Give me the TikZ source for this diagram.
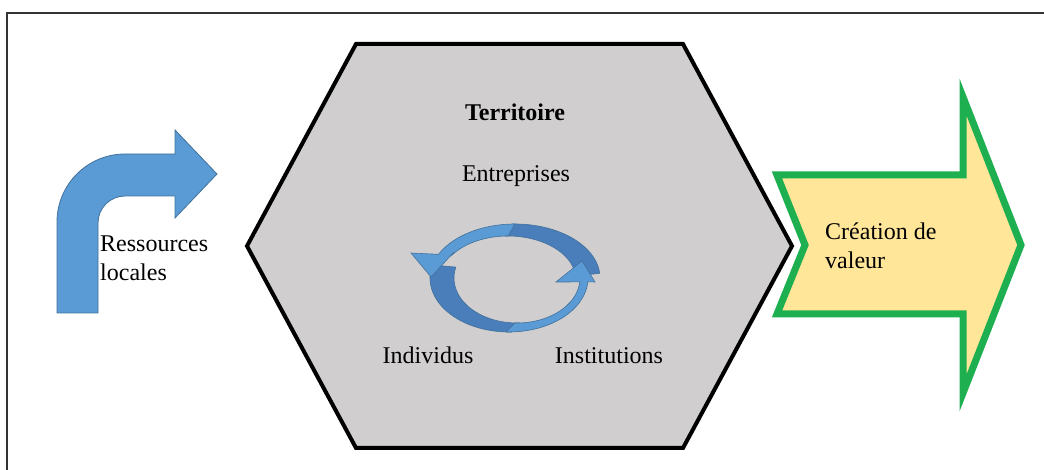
\documentclass[tikz,border=0pt]{standalone}
\usepackage{fontspec}
\setmainfont{Liberation Serif}
\usetikzlibrary{positioning}

\definecolor{hexgray}{HTML}{D0CECE}
\definecolor{blueL}{HTML}{5B9BD5}
\definecolor{blueD}{HTML}{4A7EBB}
\definecolor{blueE}{HTML}{41719C}
\definecolor{valfill}{HTML}{FFE699}
\definecolor{valgreen}{HTML}{1DAF50}

\begin{document}
\begin{tikzpicture}[
    x=1bp, y=-1bp,
    frame/.style={draw=black!80, line width=1.6bp},            % cadre (haut + gauche)
    hexa/.style={draw=black, line width=4bp, fill=hexgray, line join=miter},
    resarrow/.style={fill=blueL, draw=blueE, line width=0.8bp},
    cyclight/.style={fill=blueL, draw=blueE, line width=0.6bp},
    cycdark/.style={fill=blueD, draw=blueE, line width=0.6bp},
    valarrow/.style={fill=valfill, draw=valgreen, line width=7bp, line join=miter},
    txt/.style={font=\fontsize{24bp}{29bp}\selectfont, inner sep=0pt},
    titre/.style={txt, font=\fontsize{24bp}{29bp}\selectfont\bfseries}
]
    \useasboundingbox (0,0) rectangle (1044,470);

    % 1. cadre
    \draw[frame] (7,470) -- (7,13) -- (1044,13);

    % 2. fleche coudee (ressources locales)
    \draw[resarrow] (57,313) -- (57,222)
        .. controls (57,184.5) and (87.5,154) .. (125,154)
        -- (175,154) -- (175,130) -- (217,174) -- (175,218) -- (175,196)
        -- (125,196) .. controls (110.1,196) and (98,208.1) .. (98,223)
        -- (98,313) -- cycle;

    % 3. hexagone (territoire)
    \draw[hexa] (356,44) -- (683,44) -- (792,246) -- (683,448) -- (356,448) -- (247,246) -- cycle;

    % 4. fleche de sortie (creation de valeur)
    \draw[valarrow] (777,175) -- (963,175) -- (963,97) -- (1021,245) -- (963,393)
        -- (963,314) -- (777,314) -- (805,245) -- cycle;

    % 5. cycle : fleche du haut (queue sombre) puis fleche du bas
    \draw[cycdark] plot[domain=5:92, samples=40] ({515+85*cos(\x)},{278-54*sin(\x)})
        -- plot[domain=92:5, samples=40] ({508+68*cos(\x)},{280-44*sin(\x)}) -- cycle;
    \draw[cycdark] plot[domain=166:272, samples=40] ({509+79*cos(\x)},{278-54*sin(\x)})
        -- plot[domain=272:166, samples=40] ({517+63*cos(\x)},{278-45*sin(\x)}) -- cycle;
    \draw[cyclight] plot[domain=268:356, samples=40] ({509+79*cos(\x)},{278-54*sin(\x)})
        -- (595,282) -- (582,261) -- (556,282)
        -- plot[domain=355:268, samples=40] ({517+63*cos(\x)},{278-45*sin(\x)}) -- cycle;
    \draw[cyclight] plot[domain=90:154, samples=40] ({515+85*cos(\x)},{278-54*sin(\x)})
        -- (411,253) -- (431,277) -- (454,252)
        -- plot[domain=145:90, samples=40] ({508+68*cos(\x)},{280-44*sin(\x)}) -- cycle;

    % 6. textes
    \node[titre, anchor=base] (terr) at (515,121) {Territoire};
    \node[txt, anchor=base] (entr) at (516,182) {Entreprises};
    \node[txt, anchor=base] (indiv) at (428,364) {Individus};
    \node[txt, anchor=base] (instit) at (609,364) {Institutions};
    \node[txt, anchor=base west] (ress) at (100,252) {Ressources};
    \node[txt, anchor=base west] (loc) at (100,281) {locales};
    \node[txt, anchor=base west] (crea) at (825,240) {Création de};
    \node[txt, anchor=base west] (val) at (825,269) {valeur};
\end{tikzpicture}
\end{document}
